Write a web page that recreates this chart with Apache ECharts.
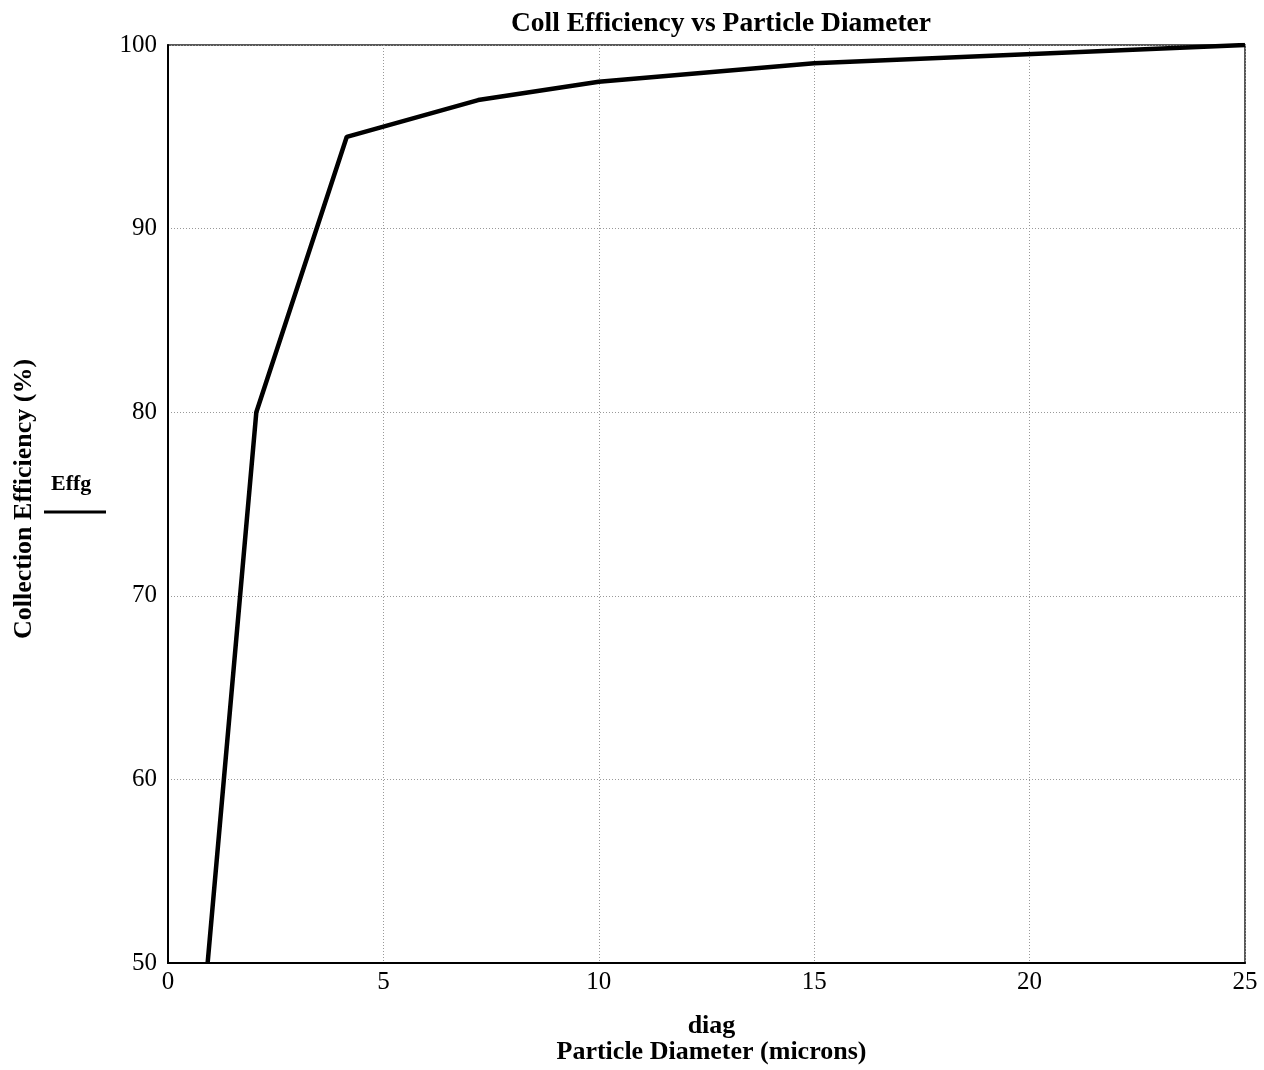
<!DOCTYPE html>
<html>
<head>
<meta charset="utf-8">
<script src="https://cdn.jsdelivr.net/npm/echarts@6/dist/echarts.min.js"></script>
<style>html,body{margin:0;padding:0;background:#fff;}#c{width:1264px;height:1070px;}</style>
</head>
<body>
<div id="c"></div>
<script>
const diag = [0.92, 2.05, 4.15, 7.2, 10, 15, 25];
const effg = [50, 80, 95, 97, 98, 99, 100];
const xTicks = [0, 5, 10, 15, 20, 25];
const yTicks = [50, 60, 70, 80, 90, 100];

const FONT = "'Liberation Serif', 'DejaVu Serif', serif";
const chart = echarts.init(document.getElementById('c'), null, {renderer: 'canvas'});
const L = 168, R = 1245, T = 45, B = 966;
chart.setOption({
  animation: false,
  backgroundColor: '#fff',
  title: {
    text: 'Coll Efficiency vs Particle Diameter',
    left: 716, top: 5, textAlign: 'center',
    textStyle: {fontFamily: FONT, fontWeight: 'bold', fontSize: 27.5, color: '#000'}
  },
  grid: {left: L, right: 1264 - R, top: T, bottom: 1070 - B, show: true, borderColor: '#222', borderWidth: 1.5, backgroundColor: 'transparent'},
  xAxis: {
    type: 'value', min: xTicks[0], max: xTicks[xTicks.length - 1], interval: 5,
    name: 'diag\nParticle Diameter (microns)', nameLocation: 'middle', nameGap: 50,
    nameTextStyle: {fontFamily: FONT, fontWeight: 'bold', fontSize: 26, color: '#000', lineHeight: 26, padding: [0, 0, 0, 10]},
    axisLine: {show: true, lineStyle: {color: '#000', width: 2}},
    axisTick: {show: false},
    axisLabel: {fontFamily: FONT, fontSize: 25, color: '#000', margin: 7},
    splitLine: {show: true, lineStyle: {color: '#999', width: 1, type: [1, 2]}}
  },
  yAxis: {
    type: 'value', min: yTicks[0], max: yTicks[yTicks.length - 1], interval: 10,
    name: 'Collection Efficiency (%)', nameLocation: 'middle', nameGap: 131, nameRotate: 90,
    nameTextStyle: {fontFamily: FONT, fontWeight: 'bold', fontSize: 26, color: '#000', padding: [0, 0, 0, 10]},
    axisLine: {show: true, lineStyle: {color: '#000', width: 2}},
    axisTick: {show: false},
    axisLabel: {fontFamily: FONT, fontSize: 25, color: '#000', margin: 11},
    splitLine: {show: true, lineStyle: {color: '#999', width: 1, type: [1, 2]}}
  },
  graphic: [
    {type: 'text', left: 51, top: 473, style: {text: 'Effg', fontFamily: FONT, fontWeight: 'bold', fontSize: 22, fill: '#000'}},
    {type: 'line', shape: {x1: 44, y1: 512, x2: 106, y2: 512}, style: {stroke: '#000', lineWidth: 3}}
  ],
  series: [{
    name: 'Effg', type: 'line',
    data: diag.map((d, i) => [d, effg[i]]),
    symbol: 'none',
    lineStyle: {color: '#000', width: 4.5},
    clip: true
  }]
});
</script>
</body>
</html>
